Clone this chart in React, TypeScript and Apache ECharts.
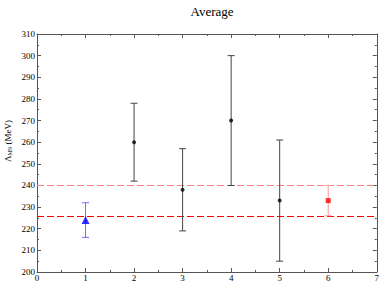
import React, { useEffect, useRef } from "react";
import * as echarts from "echarts";

const pointX = [1, 2, 3, 4, 5, 6];
const pointY = [224, 260, 238, 270, 233, 233];
const errLow = [216, 242, 219, 240, 205, 226];
const errHigh = [232, 278, 257, 300, 261, 240];
const markerKinds = ["triangle", "circle", "circle", "circle", "circle", "rect"];
const markerColors = ["#0000ff", "#000000", "#000000", "#000000", "#000000", "#ff0000"];
const barColors = ["#7070ff", "#444444", "#444444", "#444444", "#444444", "#ff9a9a"];
const bandValues = [240, 226];
const bandColors = ["#ff8080", "#ff0000"];

export default function App() {
  const ref = useRef<HTMLDivElement>(null);
  useEffect(() => {
    document.body.style.margin = "0";
    const chart = echarts.init(ref.current!, null, { renderer: "svg" });
    const font = "Liberation Serif";
    const axisCommon = {
      axisLine: { show: true, onZero: false, lineStyle: { color: "#555", width: 1 } },
      axisTick: { show: true, inside: true, length: 4, lineStyle: { color: "#555" } },
      minorTick: { show: true, splitNumber: 2, length: 2, lineStyle: { color: "#555" } },
      splitLine: { show: false },
    };
    const option: any = {
      animation: false,
      backgroundColor: "#fff",
      title: {
        text: "Average",
        left: 207,
        top: 0,
        textAlign: "center",
        textStyle: { fontFamily: font, fontWeight: "normal", fontSize: 13, color: "#000" },
      },
      grid: { left: 37, right: 4, top: 34, bottom: 12 },
      xAxis: [
        {
          type: "value", min: 0, max: 7, interval: 1, position: "bottom",
          ...axisCommon,
          axisLabel: { fontFamily: font, fontSize: 9, color: "#000", margin: 1 },
        },
        {
          type: "value", min: 0, max: 7, interval: 1, position: "top",
          ...axisCommon,
          axisLabel: { show: false },
        },
      ],
      yAxis: [
        {
          type: "value", min: 200, max: 310, interval: 10, position: "left",
          ...axisCommon,
          axisLabel: { fontFamily: font, fontSize: 9, color: "#000", margin: 2 },
        },
        {
          type: "value", min: 200, max: 310, interval: 10, position: "right",
          ...axisCommon,
          axisLabel: { show: false },
        },
      ],
      graphic: [
        {
          type: "text",
          x: 8,
          y: 141,
          rotation: Math.PI / 2,
          style: {
            text: "{a|Λ}{b|MS}{a| (MeV)}",
            align: "center",
            verticalAlign: "middle",
            rich: {
              a: { fontFamily: font, fontSize: 9, fill: "#000" },
              b: { fontFamily: font, fontSize: 6, fill: "#000", padding: [4, 0, 0, 0] },
            },
          },
        },
      ],
      series: [
        {
          type: "custom",
          silent: true,
          data: bandValues.map((v, i) => [v, i]),
          renderItem: (params: any, api: any) => {
            const v = api.value(0);
            const i = api.value(1);
            const a = api.coord([0, v]);
            const b = api.coord([7, v]);
            const y = Math.round(a[1]) + 0.5;
            return {
              type: "line",
              shape: { x1: a[0], y1: y, x2: b[0], y2: y },
              style: { stroke: bandColors[i], lineWidth: 1, lineDash: [7, 3], fill: null, opacity: 1 },
            };
          },
          z: 1,
        },
        {
          type: "custom",
          silent: true,
          data: pointX.map((x, i) => [x, errLow[i], errHigh[i], i]),
          renderItem: (params: any, api: any) => {
            const x = api.value(0);
            const lo = api.coord([x, api.value(1)]);
            const hi = api.coord([x, api.value(2)]);
            const i = api.value(3);
            const color = barColors[i];
            const w = 3.5;
            const st = { stroke: color, lineWidth: 1 };
            return {
              type: "group",
              children: [
                { type: "line", shape: { x1: lo[0], y1: lo[1], x2: hi[0], y2: hi[1] }, style: st },
                { type: "line", shape: { x1: lo[0] - w, y1: lo[1], x2: lo[0] + w, y2: lo[1] }, style: st },
                { type: "line", shape: { x1: hi[0] - w, y1: hi[1], x2: hi[0] + w, y2: hi[1] }, style: st },
              ],
            };
          },
          z: 2,
        },
        {
          type: "scatter",
          data: pointX.map((x, i) => ({
            value: [x, pointY[i]],
            symbol: markerKinds[i],
            symbolSize: markerKinds[i] === "triangle" ? 8 : markerKinds[i] === "rect" ? 5 : 4,
            itemStyle: { color: markerColors[i] },
          })),
          z: 3,
        },
      ],
    };
    chart.setOption(option);
    return () => chart.dispose();
  }, []);
  return <div ref={ref} style={{ width: 382, height: 284 }} />;
}
